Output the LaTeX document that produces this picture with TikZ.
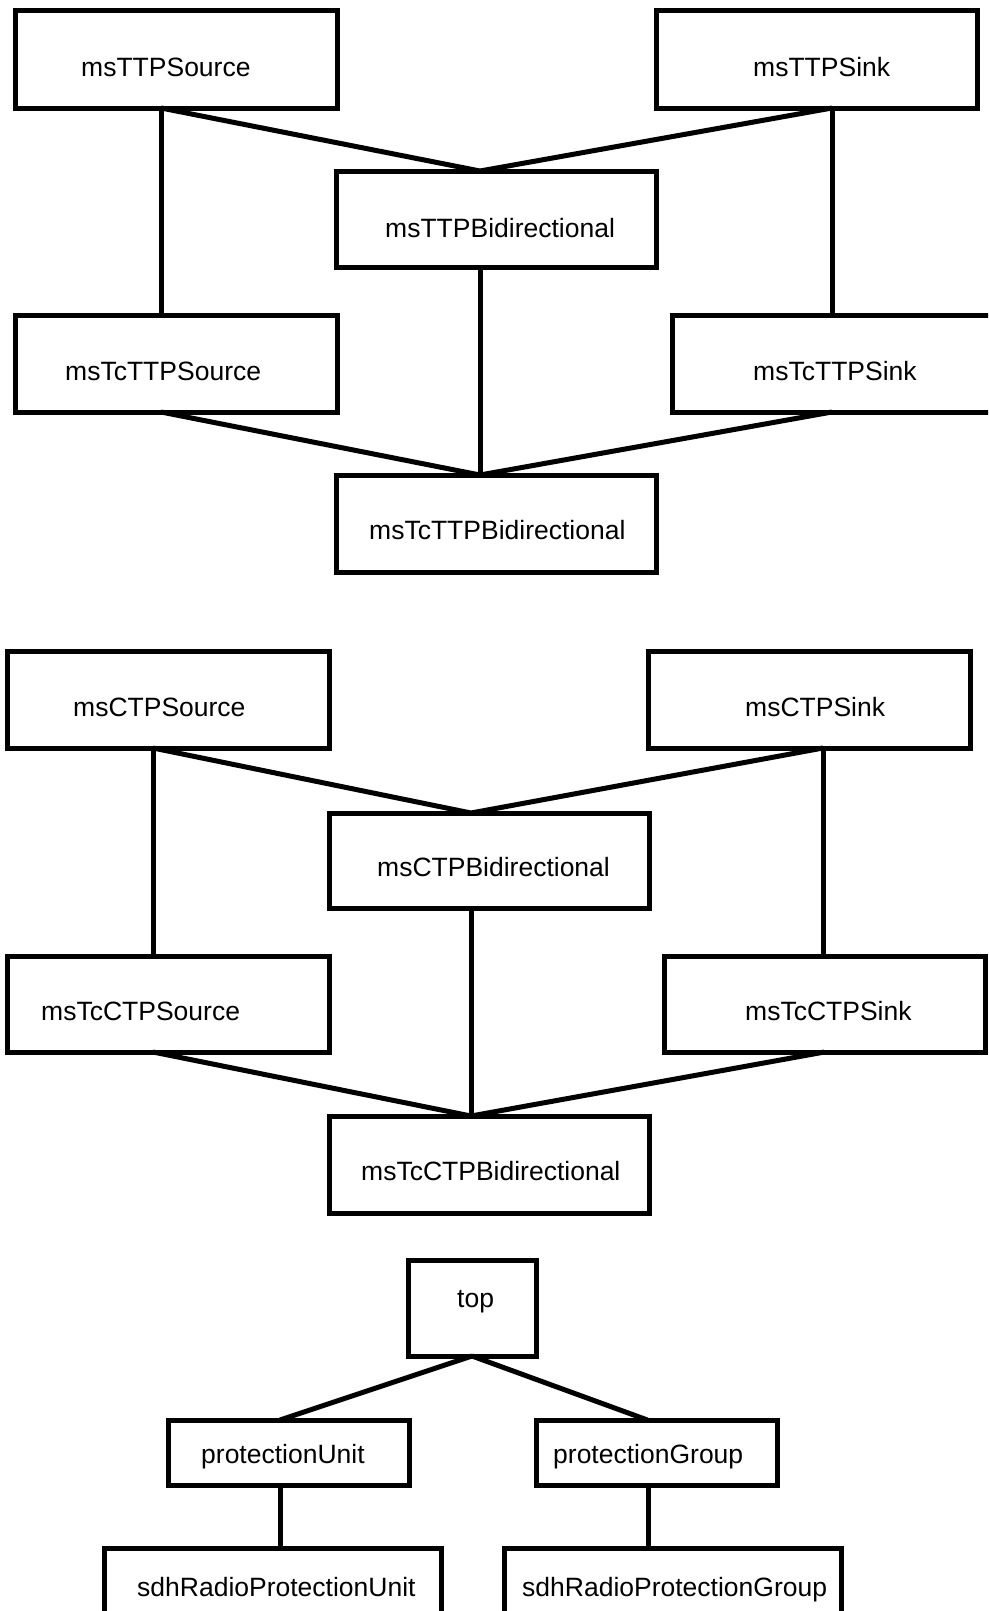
\documentclass[tikz,border=0pt]{standalone}
\usepackage{fontspec}
\setmainfont{Liberation Sans}
\begin{document}
\begin{tikzpicture}[x=1pt,y=-1pt,
  box/.style={draw=black,line width=5pt,inner sep=0pt,outer sep=0pt,fill=none},
  lbl/.style={anchor=base west,inner sep=0pt,font=\fontsize{26.5}{32}\selectfont},
  conn/.style={draw=black,line width=5pt}]
\useasboundingbox (0,0) rectangle (988,1611);
\clip (0,0) rectangle (988,1611);
% ---- top group
\node[box,minimum width=322pt,minimum height=97pt] (ttpSrc) at (176,59.5) {};
\node[box,minimum width=321pt,minimum height=97pt] (ttpSnk) at (816.5,59.5) {};
\node[box,minimum width=320pt,minimum height=96pt] (ttpBid) at (496,219) {};
\node[box,minimum width=322pt,minimum height=97pt] (tcttpSrc) at (176,363.5) {};
\node[box,minimum width=328pt,minimum height=97pt] (tcttpSnk) at (836,363.5) {};
\node[box,minimum width=320pt,minimum height=97pt] (tcttpBid) at (496,523.5) {};
\node[lbl] (ttpSrcT) at (81,77) {msTTPSource};
\node[lbl] (ttpSnkT) at (753,77) {msTTPSink};
\node[lbl] (ttpBidT) at (385,237) {msTTPBidirectional};
\node[lbl] (tcttpSrcT) at (65,380) {msTcTTPSource};
\node[lbl] (tcttpSnkT) at (753,380) {msTcTTPSink};
\node[lbl] (tcttpBidT) at (369,539) {msTcTTPBidirectional};
\draw[conn] ([xshift=-15pt]ttpSrc.south) -- ([xshift=-15pt]tcttpSrc.north);
\draw[conn] ([xshift=-15pt]ttpSrc.south) -- ([xshift=-16pt]ttpBid.north);
\draw[conn] ([xshift=15.5pt]ttpSnk.south) -- ([xshift=-16pt]ttpBid.north);
\draw[conn] ([xshift=15.5pt]ttpSnk.south) -- ([xshift=-4pt]tcttpSnk.north);
\draw[conn] ([xshift=-16pt]ttpBid.south) -- ([xshift=-16pt]tcttpBid.north);
\draw[conn] ([xshift=-15pt]tcttpSrc.south) -- ([xshift=-16pt]tcttpBid.north);
\draw[conn] ([xshift=-4pt]tcttpSnk.south) -- ([xshift=-16pt]tcttpBid.north);
% ---- middle group
\node[box,minimum width=322pt,minimum height=97pt] (ctpSrc) at (168,699.5) {};
\node[box,minimum width=322pt,minimum height=97pt] (ctpSnk) at (809,699.5) {};
\node[box,minimum width=320pt,minimum height=95pt] (ctpBid) at (489,860.5) {};
\node[box,minimum width=322pt,minimum height=96pt] (tcctpSrc) at (168,1004) {};
\node[box,minimum width=321pt,minimum height=96pt] (tcctpSnk) at (824.5,1004) {};
\node[box,minimum width=320pt,minimum height=97pt] (tcctpBid) at (489,1164.5) {};
\node[lbl] (ctpSrcT) at (73,716) {msCTPSource};
\node[lbl] (ctpSnkT) at (745,716) {msCTPSink};
\node[lbl] (ctpBidT) at (377,876) {msCTPBidirectional};
\node[lbl] (tcctpSrcT) at (41,1020) {msTcCTPSource};
\node[lbl] (tcctpSnkT) at (745,1020) {msTcCTPSink};
\node[lbl] (tcctpBidT) at (361,1180) {msTcCTPBidirectional};
\draw[conn] ([xshift=-15pt]ctpSrc.south) -- ([xshift=-15pt]tcctpSrc.north);
\draw[conn] ([xshift=-15pt]ctpSrc.south) -- ([xshift=-18pt]ctpBid.north);
\draw[conn] ([xshift=14pt]ctpSnk.south) -- ([xshift=-18pt]ctpBid.north);
\draw[conn] ([xshift=14pt]ctpSnk.south) -- ([xshift=-1.5pt]tcctpSnk.north);
\draw[conn] ([xshift=-18pt]ctpBid.south) -- ([xshift=-18pt]tcctpBid.north);
\draw[conn] ([xshift=-15pt]tcctpSrc.south) -- ([xshift=-18pt]tcctpBid.north);
\draw[conn] ([xshift=0pt]tcctpSnk.south) -- ([xshift=-18pt]tcctpBid.north);
% ---- bottom group
\node[box,minimum width=128pt,minimum height=96pt] (top) at (472,1308) {};
\node[box,minimum width=241pt,minimum height=65pt] (pU) at (288.5,1452.5) {};
\node[box,minimum width=241pt,minimum height=65pt] (pG) at (656.5,1452.5) {};
\node[box,minimum width=337pt,minimum height=82pt] (sRPU) at (272.5,1589) {};
\node[box,minimum width=337pt,minimum height=82pt] (sRPG) at (672.5,1589) {};
\node[lbl] (topT) at (457,1307) {top};
\node[lbl] (pUT) at (201,1463) {protectionUnit};
\node[lbl] (pGT) at (553,1463) {protectionGroup};
\node[lbl] (sRPUT) at (137,1596) {sdhRadioProtectionUnit};
\node[lbl] (sRPGT) at (522,1596) {sdhRadioProtectionGroup};
\draw[conn] (top.south) -- ([xshift=-8.5pt]pU.north);
\draw[conn] (top.south) -- ([xshift=-9pt]pG.north);
\draw[conn] ([xshift=-8.5pt]pU.south) -- ([xshift=7.5pt]sRPU.north);
\draw[conn] ([xshift=-8.5pt]pG.south) -- ([xshift=-24.5pt]sRPG.north);
\end{tikzpicture}
\end{document}
